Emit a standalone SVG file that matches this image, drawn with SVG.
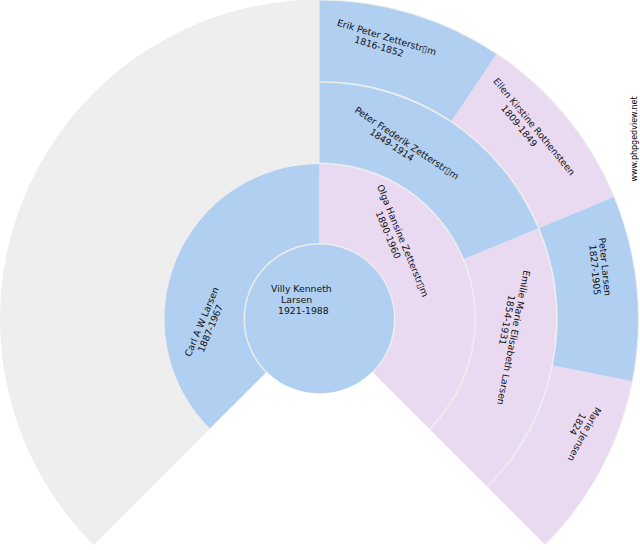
<svg xmlns="http://www.w3.org/2000/svg" width="640" height="550" viewBox="0 0 640 550">
<style>
.m{fill:#b1cff0}
.f{fill:#e9daf1}
.bg{fill:#eeeeee}
.t{font-family:"DejaVu Sans","Liberation Sans",sans-serif;font-size:9.3px;fill:#111;text-anchor:middle}
.c{font-family:"DejaVu Sans","Liberation Sans",sans-serif;font-size:9.3px;fill:#111}
.w{font-family:"DejaVu Sans","Liberation Sans",sans-serif;font-size:8px;fill:#000;text-anchor:middle}
</style>
<rect width="640" height="550" fill="#ffffff"/>
<path id="background" class="bg" d="M319.5,319 L93.58,544.92 A319.5,319.5 0 1 1 545.42,544.92 Z"/>

<g id="p-villy">
<circle class="m" cx="319.5" cy="319" r="74.5"/>
<text class="c" x="271" y="292">Villy Kenneth</text>
<text class="c" x="281" y="303">Larsen</text>
<text class="c" x="278" y="314">1921-1988</text>
</g>

<g id="p-carl">
<path class="m" d="M209.90,428.60 A155,155 0 0 1 319.5,164 L319.5,243 A76,76 0 0 0 265.76,372.74 Z"/>
<text class="t" transform="translate(204.8,323.1) rotate(-67.5)">Carl A W Larsen</text>
<text class="t" transform="translate(213.3,329.6) rotate(-67.5)">1887-1967</text>
</g>

<g id="p-olga">
<path class="f" d="M319.5,164 A155,155 0 0 1 429.10,428.60 L373.24,372.74 A76,76 0 0 0 319.5,243 Z"/>
<text class="t" transform="translate(399.7,241.9) rotate(67.5)">Olga Hansine Zetterstr▯m</text>
<text class="t" transform="translate(385.2,236.1) rotate(67.5)">1890-1960</text>
</g>

<g id="p-peter-frederik">
<path class="m" d="M319.5,82.5 A236.5,236.5 0 0 1 538.00,228.50 L464.09,259.11 A156.5,156.5 0 0 0 319.5,162.5 Z"/>
<text class="t" transform="translate(405,145.8) rotate(33.75)">Peter Frederik Zetterstr▯m</text>
<text class="t" transform="translate(390,147.5) rotate(33.75)">1849-1914</text>
</g>

<g id="p-emilie">
<path class="f" d="M538.00,228.50 A236.5,236.5 0 0 1 486.73,486.23 L430.16,429.66 A156.5,156.5 0 0 0 464.09,259.11 Z"/>
<text class="t" transform="translate(510.4,336.9) rotate(101.25)">Emilie Marie Elisabeth Larsen</text>
<text class="t" transform="translate(503.8,319.4) rotate(101.25)">1854-1931</text>
</g>

<g id="p-erik">
<path class="m" d="M319.5,0.5 A318.5,318.5 0 0 1 496.45,54.18 L451.73,121.11 A238,238 0 0 0 319.5,81 Z"/>
<text class="t" transform="translate(385.8,40.4) rotate(16.875)">Erik Peter Zetterstr▯m</text>
<text class="t" transform="translate(378.1,49.6) rotate(16.875)">1816-1852</text>
</g>

<g id="p-ellen">
<path class="f" d="M496.45,54.18 A318.5,318.5 0 0 1 613.76,197.12 L539.38,227.92 A238,238 0 0 0 451.73,121.11 Z"/>
<text class="t" transform="translate(531.7,128.6) rotate(50.625)">Ellen Kirstine Rothensteen</text>
<text class="t" transform="translate(516.7,127.9) rotate(50.625)">1809-1849</text>
</g>

<g id="p-peter-larsen">
<path class="m" d="M613.76,197.12 A318.5,318.5 0 0 1 631.88,381.14 L552.93,365.43 A238,238 0 0 0 539.38,227.92 Z"/>
<text class="t" transform="translate(601.7,267) rotate(84.375)">Peter Larsen</text>
<text class="t" transform="translate(591.7,270.3) rotate(84.375)">1827-1905</text>
</g>

<g id="p-marie">
<path class="f" d="M631.88,381.14 A318.5,318.5 0 0 1 544.71,544.21 L487.79,487.29 A238,238 0 0 0 552.93,365.43 Z"/>
<text class="t" transform="translate(581.6,432.8) rotate(118.125)">Marie Jensen</text>
<text class="t" transform="translate(574.9,422.6) rotate(118.125)">1824</text>
</g>

<g id="watermark">
<text class="w" transform="translate(636.5,139) rotate(-90)">www.phpgedview.net</text>
</g>
</svg>
